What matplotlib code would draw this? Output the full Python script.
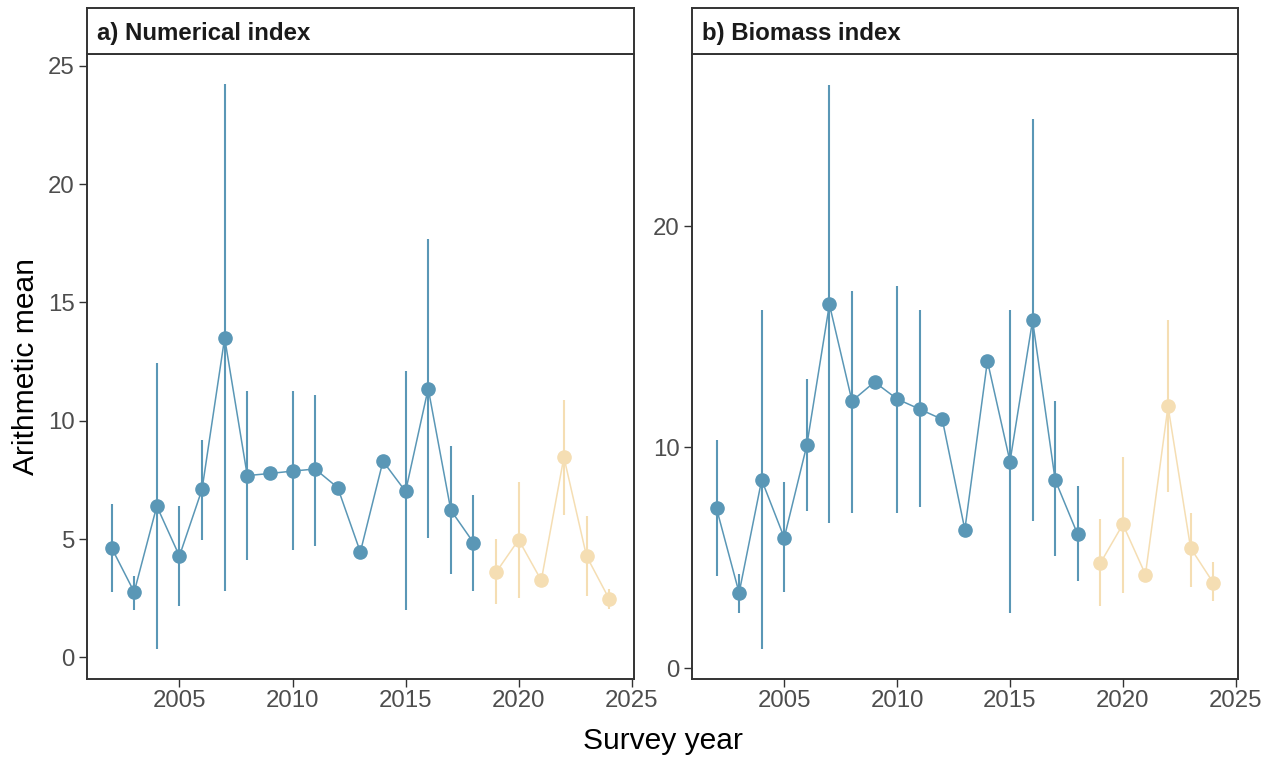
import numpy as np
import matplotlib
matplotlib.use("Agg")
import matplotlib.pyplot as plt

plt.rcParams['font.family'] = ['Liberation Sans', 'DejaVu Sans']

nan = np.nan
years = list(range(2002, 2025))
split_year = 2019  # last survey period starts here

num_mean = [4.63, 2.76, 6.39, 4.28, 7.10, 13.50, 7.68, 7.77, 7.87, 7.96, 7.17, 4.45,
            8.29, 7.01, 11.36, 6.22, 4.85, 3.59, 4.97, 3.25, 8.46, 4.28, 2.47]
num_lo = [2.76, 1.99, 0.36, 2.16, 4.97, 2.81, 4.11, nan, 4.54, 4.71, nan, nan,
          nan, 1.99, 5.06, 3.54, 2.81, 2.24, 2.50, nan, 6.01, 2.59, 2.04]
num_hi = [6.47, 3.42, 12.43, 6.39, 9.20, 24.22, 11.27, nan, 11.27, 11.10, nan, nan,
          nan, 12.10, 17.66, 8.94, 6.87, 5.01, 7.42, nan, 10.89, 5.96, 2.90]

bio_mean = [7.24, 3.42, 8.53, 5.91, 10.10, 16.47, 12.10, 12.96, 12.19, 11.73, 11.27, 6.28,
            13.91, 9.36, 15.75, 8.53, 6.06, 4.76, 6.52, 4.25, 11.86, 5.45, 3.88]
bio_lo = [4.16, 2.53, 0.89, 3.45, 7.11, 6.56, 7.02, nan, 7.02, 7.29, nan, nan,
          nan, 2.53, 6.65, 5.08, 3.97, 2.81, 3.42, nan, 7.98, 3.69, 3.05]
bio_hi = [10.34, 4.28, 16.21, 8.44, 13.11, 26.41, 17.08, nan, 17.30, 16.21, nan, nan,
          nan, 16.21, 24.88, 12.10, 8.25, 6.78, 9.55, nan, 15.75, 7.05, 4.80]

panel_titles = ["a) Numerical index", "b) Biomass index"]
x_ticks = [2005, 2010, 2015, 2020, 2025]
y_ticks_a = [0, 5, 10, 15, 20, 25]
y_ticks_b = [0, 10, 20]

col_early = "#5A97B6"
col_late = "#F5DEB3"
frame_col = "#333333"

W, H = 1264, 760
fig = plt.figure(figsize=(W / 100, H / 100), dpi=100)

top_px, bot_px, strip_top_px = 54, 678.6, 8
panels = [
    dict(l=86.7, r=634, mean=num_mean, lo=num_lo, hi=num_hi, ylim=(-0.9, 25.5), yt=y_ticks_a),
    dict(l=691.7, r=1238, mean=bio_mean, lo=bio_lo, hi=bio_hi, ylim=(-0.46, 27.8), yt=y_ticks_b),
]


def draw_panel(ax, mean, lo, hi):
    yrs = np.array(years)
    m = np.array(mean)
    lo = np.array(lo)
    hi = np.array(hi)
    for mask, col in [(yrs < split_year, col_early), (yrs >= split_year, col_late)]:
        has_bar = mask & ~np.isnan(lo)
        ax.vlines(yrs[has_bar], lo[has_bar], hi[has_bar], color=col, lw=1.5, zorder=2)
        ax.plot(yrs[mask], m[mask], color=col, lw=1.1, zorder=3)
        ax.plot(yrs[mask], m[mask], 'o', color=col, ms=9.5, mec=col, zorder=4)


for i, p in enumerate(panels):
    left = p['l'] / W
    width = (p['r'] - p['l']) / W
    bottom = 1 - bot_px / H
    height = (bot_px - top_px) / H
    ax = fig.add_axes([left, bottom, width, height])
    draw_panel(ax, p['mean'], p['lo'], p['hi'])
    ax.set_xlim(2000.9, 2025.1)
    ax.set_ylim(*p['ylim'])
    ax.set_xticks(x_ticks)
    ax.set_yticks(p['yt'])
    ax.tick_params(axis='both', length=5.5, width=1.0, color=frame_col,
                   labelsize=17.3, labelcolor="#4D4D4D", pad=3)
    for s in ax.spines.values():
        s.set_color(frame_col)
        s.set_linewidth(1.4)

    # strip header above each panel
    sax = fig.add_axes([left, 1 - top_px / H, width, (top_px - strip_top_px) / H])
    sax.set_xticks([])
    sax.set_yticks([])
    for s in sax.spines.values():
        s.set_color(frame_col)
        s.set_linewidth(1.4)
    sax.text(10 / (p['r'] - p['l']), 0.44, panel_titles[i], transform=sax.transAxes,
             ha='left', va='center', fontsize=17.3, fontweight='bold', color="#1A1A1A")

    if i == 0:
        ax.set_ylabel("Arithmetic mean", fontsize=21.6, color="black", labelpad=6)

fig.text(663 / W, 1 - 741 / H, "Survey year", ha='center', va='center',
         fontsize=21.6, color="black")

fig.savefig("out.png", dpi=100, facecolor="white")
